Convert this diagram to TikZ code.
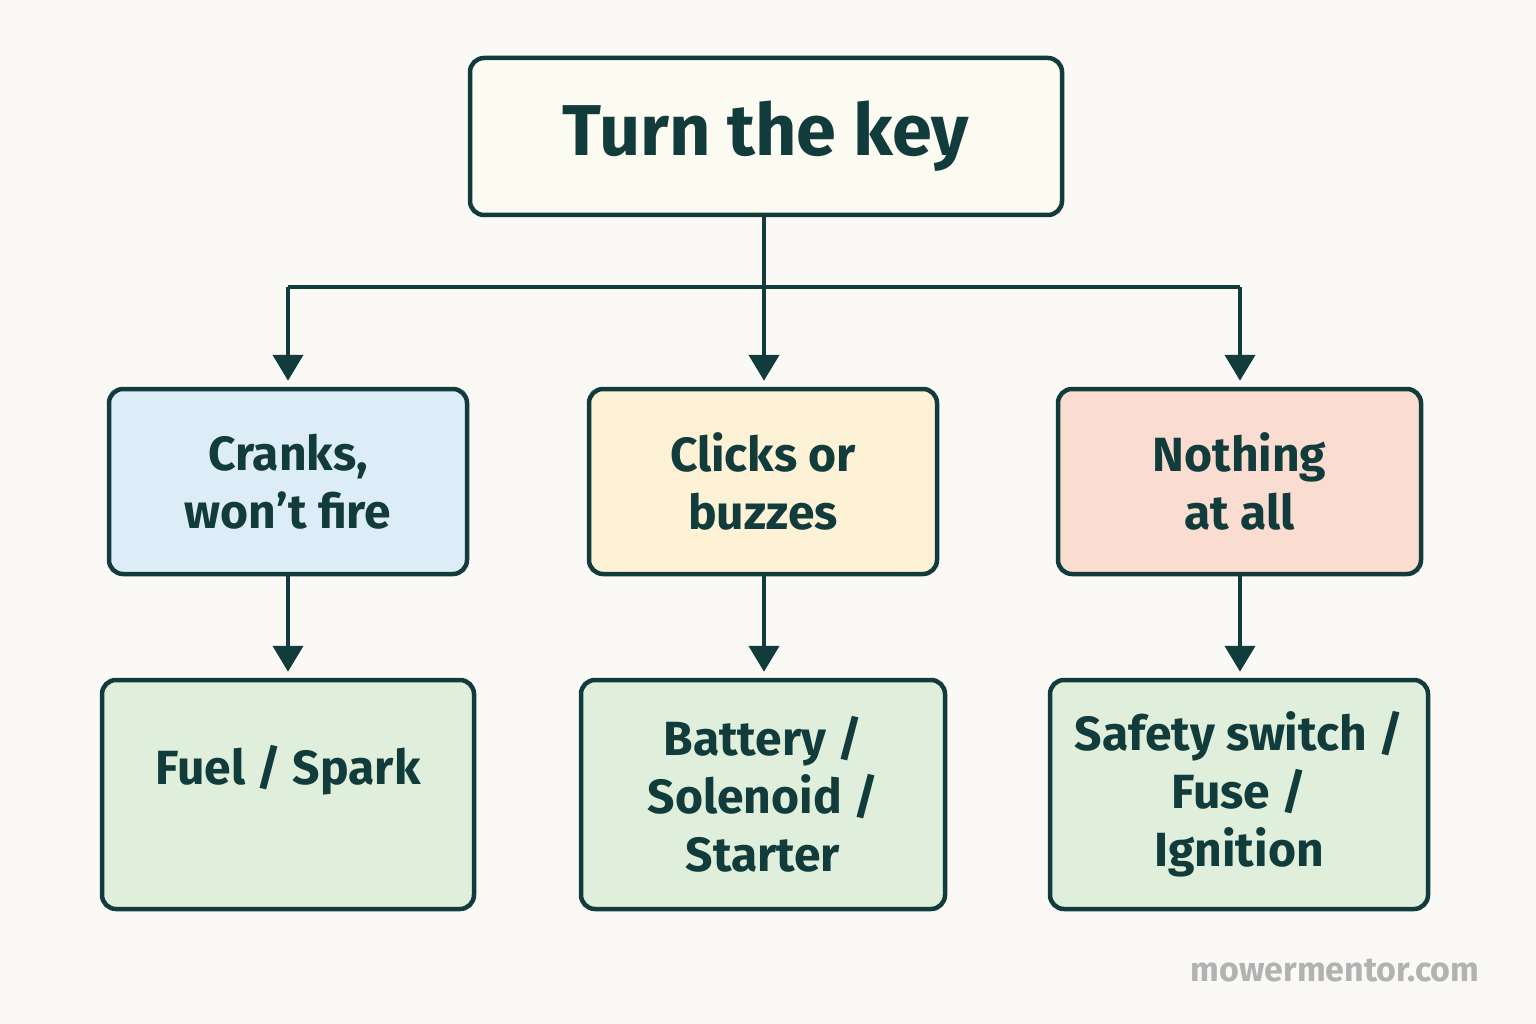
\documentclass[tikz,border=0pt]{standalone}
\usepackage{fontspec}
\setmainfont{Fira Sans}
\usetikzlibrary{arrows.meta}
\definecolor{ink}{HTML}{123B3B}
\definecolor{bg}{HTML}{FAF9F6}
\definecolor{topf}{HTML}{FBFBF2}
\definecolor{bluef}{HTML}{DDEDF7}
\definecolor{yelf}{HTML}{FDF1D6}
\definecolor{pinkf}{HTML}{FADCD0}
\definecolor{greenf}{HTML}{DFEFDC}
\begin{document}
\begin{tikzpicture}[x=1pt,y=-1pt,
 box/.style={draw=ink,line width=4.5pt,rounded corners=14pt,text=ink,align=center,font=\fontsize{48}{58}\selectfont\bfseries,inner sep=0pt},
 arr/.style={draw=ink,line width=4.5pt,-{Triangle[length=26pt,width=30pt]}}]
\fill[bg] (0,0) rectangle (1536,1024);
\useasboundingbox (0,0) rectangle (1536,1024);
\node[box,fill=topf,minimum width=592pt,minimum height=157pt,font=\fontsize{72}{80}\selectfont\bfseries] (top) at (766,136.5) {Turn the key};
\node[box,fill=bluef,minimum width=358pt,minimum height=185pt] (m1) at (288,481.5) {Cranks,\\won’t fire};
\node[box,fill=yelf,minimum width=348pt,minimum height=185pt] (m2) at (763,481.5) {Clicks or\\buzzes};
\node[box,fill=pinkf,minimum width=363pt,minimum height=185pt] (m3) at (1239.5,481.5) {Nothing\\at all};
\node[box,fill=greenf,minimum width=372pt,minimum height=229pt] (b1) at (288,794.5) {};
\node[text=ink,font=\fontsize{48}{58}\selectfont\bfseries] (b1t) at (288,770) {Fuel / Spark};
\node[box,fill=greenf,minimum width=364pt,minimum height=229pt] (b2) at (763,794.5) {Battery /\\Solenoid /\\Starter};
\node[box,fill=greenf,minimum width=378pt,minimum height=229pt] (b3) at (1239,794.5) {Safety switch /\\Fuse /\\Ignition};
\coordinate (j) at (764,287);
\coordinate (jl) at (288,287);
\coordinate (jr) at (1240,287);
\draw[draw=ink,line width=4.5pt] (top.south -| j) -- (j);
\draw[draw=ink,line width=4.5pt] (jl) -- (jr);
\draw[arr] (jl) -- ([yshift=6pt]m1.north -| jl);
\draw[arr] (j) -- ([yshift=6pt]m2.north -| j);
\draw[arr] (jr) -- ([yshift=6pt]m3.north -| jr);
\draw[arr] (m1.south) -- ([yshift=6pt]b1.north -| m1.south);
\draw[arr] (m2.south -| j) -- ([yshift=6pt]b2.north -| j);
\draw[arr] (m3.south -| jr) -- ([yshift=6pt]b3.north -| jr);
\node[text=black!30,font=\fontsize{34}{40}\selectfont\bfseries] (wm) at (1335,970) {mowermentor.com};
\end{tikzpicture}
\end{document}
